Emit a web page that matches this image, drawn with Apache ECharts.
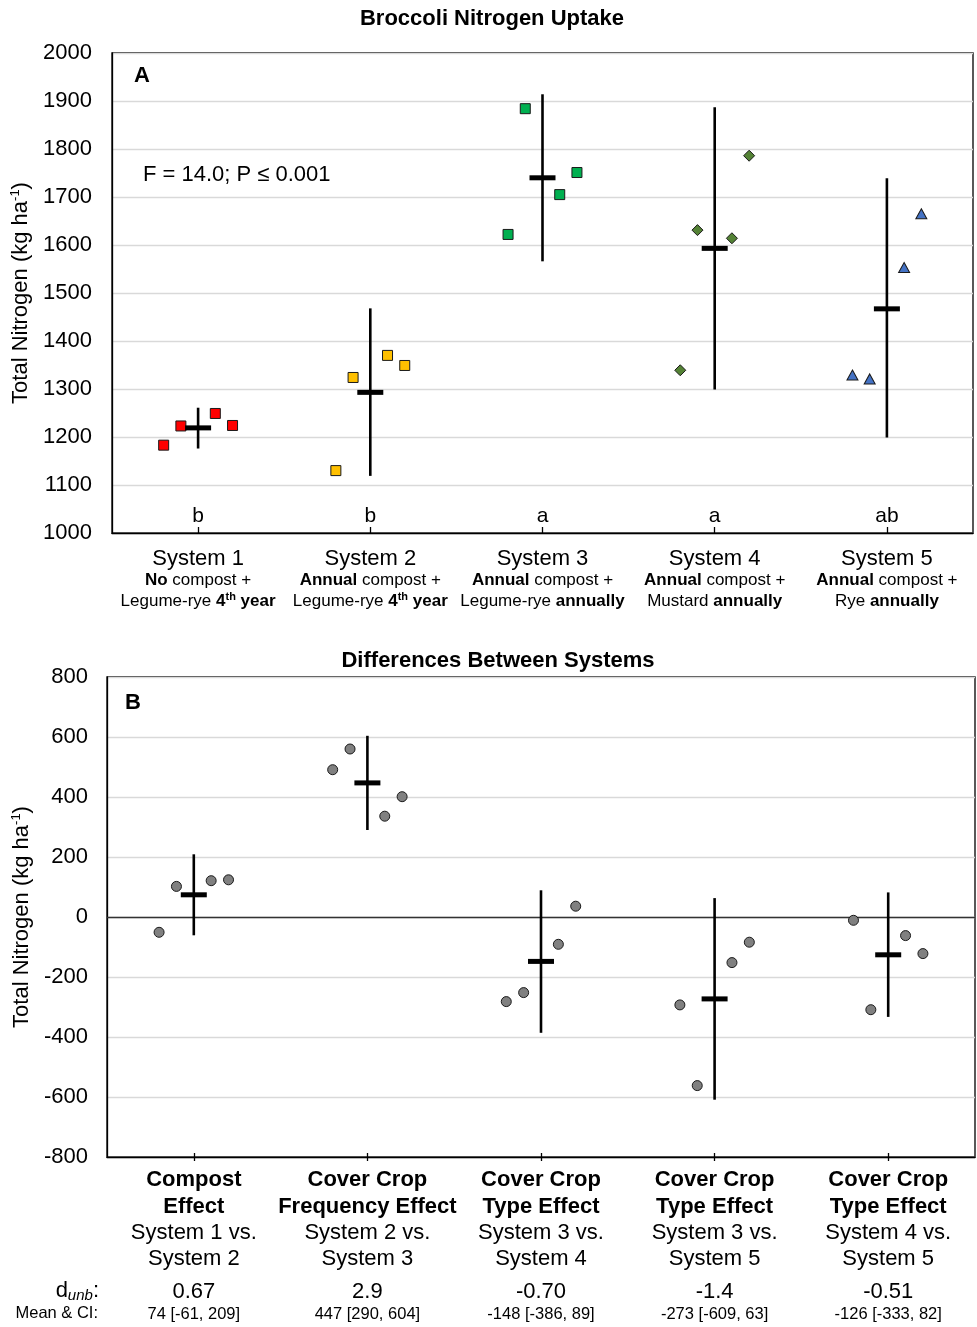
<!DOCTYPE html>
<html>
<head>
<meta charset="utf-8">
<script src="https://cdn.jsdelivr.net/npm/echarts@6/dist/echarts.min.js"></script>
<style>
html,body{margin:0;padding:0;background:#fff;}
#chart{width:977px;height:1327px;}
</style>
</head>
<body>
<div id="chart"></div>
<script>
// ---------- DATA ----------
const titleA = 'Broccoli Nitrogen Uptake';
const titleB = 'Differences Between Systems';
const systemNames = ['System 1', 'System 2', 'System 3', 'System 4', 'System 5'];
const systemLine2 = [['No', ' compost +'], ['Annual', ' compost +'], ['Annual', ' compost +'], ['Annual', ' compost +'], ['Annual', ' compost +']];
const systemLine3 = [['Legume-rye ', '4', 'th', ' year'], ['Legume-rye ', '4', 'th', ' year'], ['Legume-rye ', 'annually'], ['Mustard ', 'annually'], ['Rye ', 'annually']];
const uptakeTicksA = [1000, 2000, 100];

const uptakeS1 = [1183, 1223, 1249, 1224];
const uptakeS2 = [1130, 1324, 1370, 1349];
const uptakeS3 = [1622, 1884, 1705, 1751];
const uptakeS4 = [1339, 1631, 1614, 1786];
const uptakeS5 = [1329, 1321, 1553, 1665];
const uptakeMean = [1219, 1293, 1740, 1593, 1467];
const uptakeCiLow = [1176, 1119, 1566, 1299, 1199];
const uptakeCiHigh = [1261, 1468, 1914, 1887, 1739];
const letters = ['b', 'b', 'a', 'a', 'ab'];
const statText = 'F = 14.0; P \u2264 0.001';

const effectNames = [['Compost', 'Effect'], ['Cover Crop', 'Frequency Effect'], ['Cover Crop', 'Type Effect'], ['Cover Crop', 'Type Effect'], ['Cover Crop', 'Type Effect']];
const effectCompare = [['System 1 vs.', 'System 2'], ['System 2 vs.', 'System 3'], ['System 3 vs.', 'System 4'], ['System 3 vs.', 'System 5'], ['System 4 vs.', 'System 5']];
const diffTicksB = [-800, 800, 200];
const diffC1 = [-51, 102, 121, 124];
const diffC2 = [491, 560, 336, 401];
const diffC3 = [-282, -252, -91, 36];
const diffC4 = [-293, -562, -152, -84];
const diffC5 = [-11, -309, -62, -122];
const diffMean = [74, 447, -148, -273, -126];
const diffCiLow = [-61, 290, -386, -609, -333];
const diffCiHigh = [209, 604, 89, 63, 82];
const dUnb = ['0.67', '2.9', '-0.70', '-1.4', '-0.51'];

// ---------- BUILD ----------
const FONT = "'Liberation Sans', Arial, Helvetica, sans-serif";
const uptakeSets = [uptakeS1, uptakeS2, uptakeS3, uptakeS4, uptakeS5];
const diffSets = [diffC1, diffC2, diffC3, diffC4, diffC5];
const jitter = [-0.2, -0.1, 0.1, 0.2];
const sysStyles = [
  {symbol: 'rect', size: 10, color: '#ff0000'},
  {symbol: 'rect', size: 10, color: '#ffc000'},
  {symbol: 'rect', size: 10, color: '#00b050'},
  {symbol: 'diamond', size: [11, 11], color: '#548235'},
  {symbol: 'triangle', size: [11, 10], color: '#4472c4'}
];

const chart = echarts.init(document.getElementById('chart'), null, {renderer: 'canvas'});

function ciRender(params, api) {
  const x = api.value(0);
  const lo = api.coord([x, api.value(1)]);
  const hi = api.coord([x, api.value(2)]);
  const m = api.coord([x, api.value(3)]);
  return {
    type: 'group',
    children: [
      {type: 'line', shape: {x1: lo[0], y1: lo[1], x2: hi[0], y2: hi[1]}, style: {stroke: '#000', lineWidth: 2.6}},
      {type: 'rect', shape: {x: m[0] - 13, y: m[1] - 2.5, width: 26, height: 5}, style: {fill: '#000'}}
    ]
  };
}

function letterRender(params, api) {
  const p = api.coord([api.value(0), uptakeTicksA[0]]);
  return {
    type: 'text',
    style: {x: p[0], y: p[1] - 17, text: letters[params.dataIndex], fill: '#000', font: '21px ' + FONT, textAlign: 'center', textVerticalAlign: 'middle'}
  };
}

const labelsA = systemNames.map((n, i) => {
  const l2 = '{b|' + systemLine2[i][0] + '}{r|' + systemLine2[i][1] + '}';
  const p = systemLine3[i];
  const l3 = p.length === 4
    ? '{r|' + p[0] + '}{b|' + p[1] + '}{sup|' + p[2] + '}{b|' + p[3] + '}'
    : '{r|' + p[0] + '}{b|' + p[1] + '}';
  return '{t|' + n + '}\n' + l2 + '\n' + l3;
});
const labelsB = effectNames.map((n, i) =>
  '{h|' + n[0] + '}\n{h|' + n[1] + '}\n{t|' + effectCompare[i][0] + '}\n{t|' + effectCompare[i][1] + '}');
const labelsStats = dUnb.map((d, i) => '{d|' + d + '}\n{s|' + diffMean[i] + ' [' + diffCiLow[i] + ', ' + diffCiHigh[i] + ']}');

const richA = {
  t: {fontSize: 22, lineHeight: 22, fontFamily: FONT, color: '#000'},
  b: {fontSize: 17, lineHeight: 21, fontWeight: 'bold', fontFamily: FONT, color: '#000'},
  r: {fontSize: 17, lineHeight: 21, fontFamily: FONT, color: '#000'},
  sup: {fontSize: 11, lineHeight: 12, fontWeight: 'bold', fontFamily: FONT, color: '#000', verticalAlign: 'top'}
};
const richB = {
  h: {fontSize: 22, lineHeight: 27, fontWeight: 'bold', fontFamily: FONT, color: '#000'},
  t: {fontSize: 22, lineHeight: 26, fontFamily: FONT, color: '#000'}
};
const richStats = {
  d: {fontSize: 22, lineHeight: 22, fontFamily: FONT, color: '#000'},
  s: {fontSize: 16.5, lineHeight: 22, fontFamily: FONT, color: '#000'}
};
const nameRich = {
  a: {fontSize: 22, fontFamily: FONT, color: '#000', lineHeight: 24},
  s: {fontSize: 13, fontFamily: FONT, color: '#000', lineHeight: 14, verticalAlign: 'top'}
};
const yName = '{a|Total Nitrogen (kg ha}{s|-1}{a|)}';
const plainNum = v => String(v);

const series = [];
uptakeSets.forEach((vals, i) => {
  series.push({
    type: 'scatter', xAxisIndex: 0, yAxisIndex: 0, z: 3,
    symbol: sysStyles[i].symbol, symbolSize: sysStyles[i].size,
    itemStyle: {color: sysStyles[i].color, borderColor: '#1a1a1a', borderWidth: 1, opacity: 1},
    data: vals.map((v, j) => [i + jitter[j], v]),
    silent: true
  });
});
series.push({
  type: 'custom', xAxisIndex: 0, yAxisIndex: 0, z: 4, silent: true,
  renderItem: ciRender, encode: {x: 0, y: [1, 2, 3]},
  data: uptakeMean.map((m, i) => [i, uptakeCiLow[i], uptakeCiHigh[i], m])
});
series.push({
  type: 'custom', xAxisIndex: 0, yAxisIndex: 0, z: 4, silent: true,
  renderItem: letterRender, encode: {x: 0},
  data: letters.map((l, i) => [i])
});
diffSets.forEach((vals, i) => {
  series.push({
    type: 'scatter', xAxisIndex: 2, yAxisIndex: 1, z: 3,
    symbol: 'circle', symbolSize: 10,
    itemStyle: {color: '#808080', borderColor: '#1a1a1a', borderWidth: 1, opacity: 1},
    data: vals.map((v, j) => [i + jitter[j], v]),
    silent: true,
    markLine: i === 0 ? {
      silent: true, symbol: 'none', z: 1, animation: false,
      label: {show: false},
      lineStyle: {color: '#333', width: 1.3, type: 'solid'},
      data: [{yAxis: 0}]
    } : undefined
  });
});
series.push({
  type: 'custom', xAxisIndex: 2, yAxisIndex: 1, z: 4, silent: true,
  renderItem: ciRender, encode: {x: 0, y: [1, 2, 3]},
  data: diffMean.map((m, i) => [i, diffCiLow[i], diffCiHigh[i], m])
});

const option = {
  animation: false,
  backgroundColor: '#fff',
  textStyle: {fontFamily: FONT},
  title: [
    {text: titleA, left: 487, top: 3, textAlign: 'center', textStyle: {fontSize: 22, fontWeight: 'bold', color: '#000', fontFamily: FONT}},
    {text: titleB, left: 493, top: 645, textAlign: 'center', textStyle: {fontSize: 22, fontWeight: 'bold', color: '#000', fontFamily: FONT}}
  ],
  grid: [
    {left: 112, top: 53, width: 861, height: 480, show: true, borderColor: '#000', borderWidth: 1.3, backgroundColor: 'transparent', containLabel: false, outerBoundsMode: 'none'},
    {left: 107, top: 677, width: 868, height: 480, show: true, borderColor: '#000', borderWidth: 1.3, backgroundColor: 'transparent', containLabel: false, outerBoundsMode: 'none'}
  ],
  xAxis: [
    {type: 'value', gridIndex: 0, min: -0.5, max: 4.5, show: false},
    {type: 'category', gridIndex: 0, data: labelsA, position: 'bottom',
      axisLine: {show: true, onZero: false, lineStyle: {color: '#000', width: 1.3}},
      axisTick: {show: true, inside: true, length: 6, alignWithLabel: true, lineStyle: {color: '#000', width: 1.3}},
      axisLabel: {interval: 0, margin: 15, rich: richA, color: '#000'},
      splitLine: {show: false}},
    {type: 'value', gridIndex: 1, min: -0.5, max: 4.5, show: false},
    {type: 'category', gridIndex: 1, data: labelsB, position: 'bottom',
      axisLine: {show: true, onZero: false, lineStyle: {color: '#000', width: 1.3}},
      axisTick: {show: true, inside: false, length: 4, alignWithLabel: true, lineStyle: {color: '#000', width: 1.3}},
      axisLabel: {interval: 0, margin: 9, rich: richB, color: '#000'},
      splitLine: {show: false}},
    {type: 'category', gridIndex: 1, data: labelsB, position: 'bottom',
      axisLine: {show: false, onZero: false},
      axisTick: {show: true, inside: true, length: 4, alignWithLabel: true, lineStyle: {color: '#000', width: 1.3}},
      axisLabel: {show: false}, splitLine: {show: false}},
    {type: 'category', gridIndex: 1, data: labelsStats, position: 'bottom', offset: 124,
      axisLine: {show: false, onZero: false}, axisTick: {show: false},
      axisLabel: {interval: 0, margin: 0, rich: richStats, color: '#000'},
      splitLine: {show: false}}
  ],
  yAxis: [
    {type: 'value', gridIndex: 0, min: uptakeTicksA[0], max: uptakeTicksA[1], interval: uptakeTicksA[2],
      name: yName, nameLocation: 'middle', nameGap: 69, nameRotate: 90, nameTextStyle: {rich: nameRich},
      axisLine: {show: true, onZero: false, lineStyle: {color: '#000', width: 1.3}}, axisTick: {show: false},
      axisLabel: {fontSize: 22, color: '#000', margin: 20, fontFamily: FONT, formatter: plainNum},
      splitLine: {show: true, lineStyle: {color: '#d9d9d9', width: 1.3}}},
    {type: 'value', gridIndex: 1, min: diffTicksB[0], max: diffTicksB[1], interval: diffTicksB[2],
      name: yName, nameLocation: 'middle', nameGap: 64, nameRotate: 90, nameTextStyle: {rich: nameRich},
      axisLine: {show: true, onZero: false, lineStyle: {color: '#000', width: 1.3}}, axisTick: {show: false},
      axisLabel: {fontSize: 22, color: '#000', margin: 19, fontFamily: FONT, formatter: plainNum},
      splitLine: {show: true, lineStyle: {color: '#d9d9d9', width: 1.3}}}
  ],
  graphic: [
    {type: 'text', left: 134, top: 65, z: 10, style: {text: 'A', font: 'bold 22px ' + FONT, fill: '#000'}},
    {type: 'text', left: 125, top: 692, z: 10, style: {text: 'B', font: 'bold 22px ' + FONT, fill: '#000'}},
    {type: 'text', left: 143, top: 164, z: 10, style: {text: statText, font: '22px ' + FONT, fill: '#000'}},
    {type: 'text', right: 878, top: 1280, z: 10, style: {
      text: '{d|d}{u|unb}{d|:}', rich: {
        d: {fontSize: 22, fontFamily: FONT, fill: '#000', lineHeight: 24},
        u: {fontSize: 15, fontStyle: 'italic', fontFamily: FONT, fill: '#000', lineHeight: 12, verticalAlign: 'bottom'}
      }}},
    {type: 'text', right: 879, top: 1305, z: 10, style: {text: 'Mean & CI:', font: '16.5px ' + FONT, fill: '#000'}}
  ],
  series: series
};
chart.setOption(option);
</script>
</body>
</html>
